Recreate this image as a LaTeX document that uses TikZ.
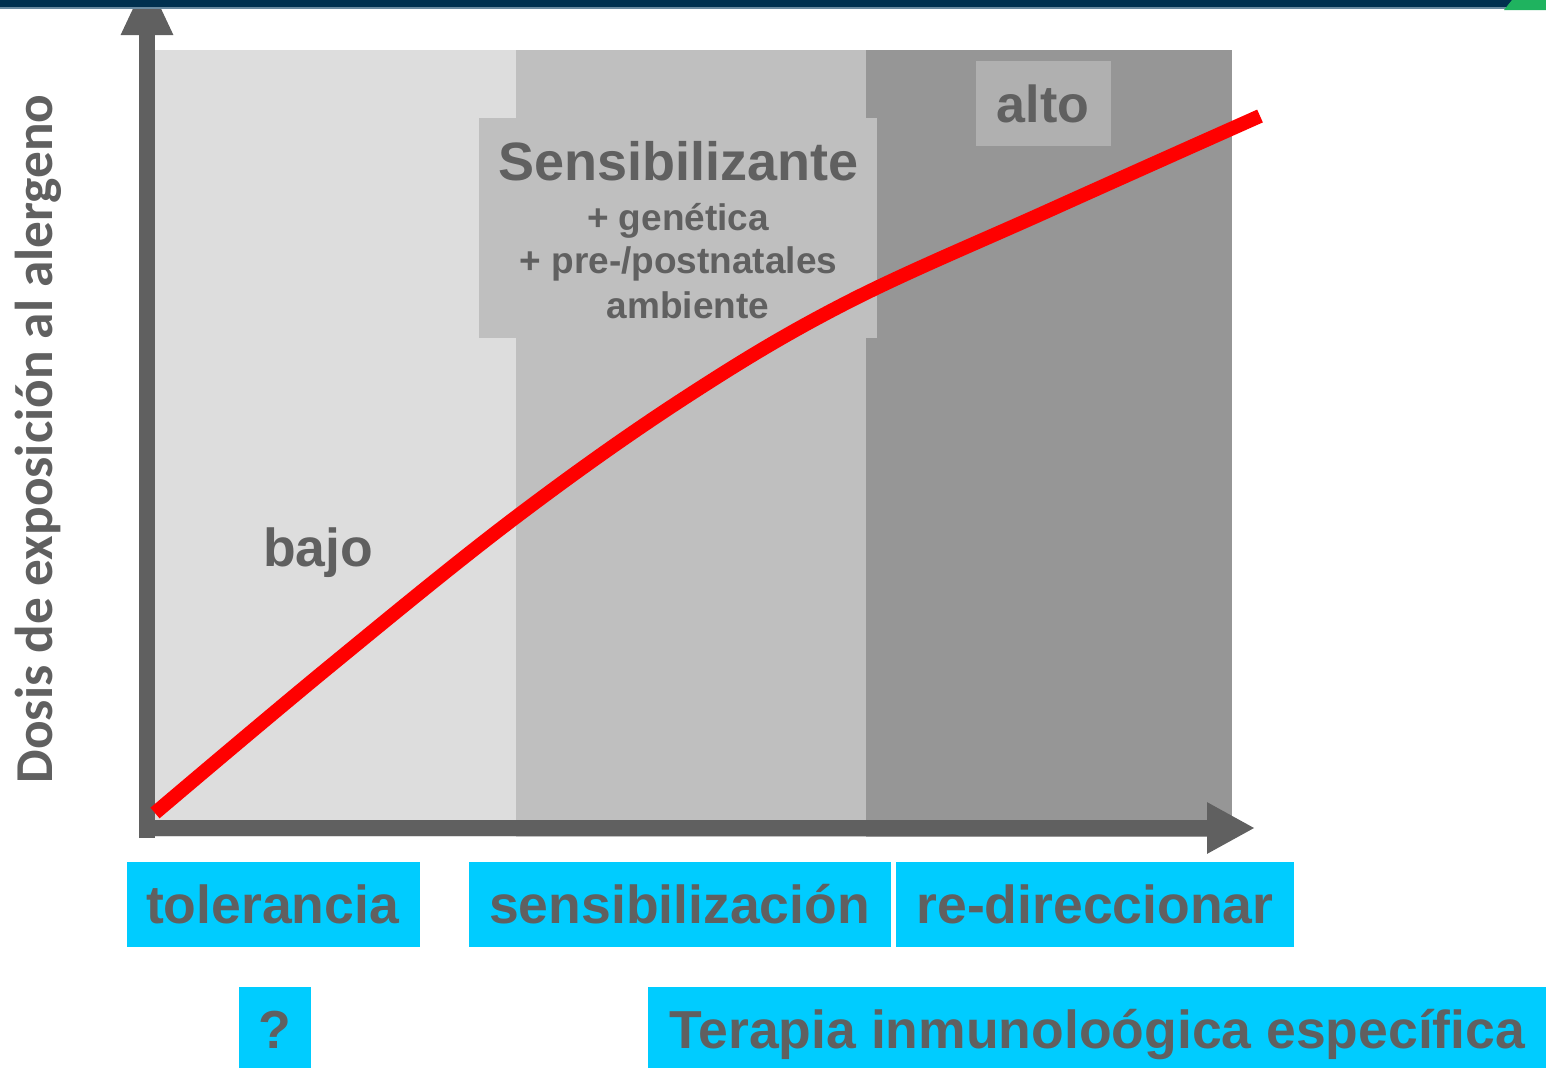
\documentclass[tikz,border=0pt]{standalone}
\usepackage{fontspec}
\setmainfont{Liberation Sans}
\newfontfamily\calibfont{Carlito}
\usetikzlibrary{arrows.meta}
\definecolor{txtgray}{HTML}{606060}
\definecolor{bandA}{HTML}{DDDDDD}
\definecolor{bandB}{HTML}{BFBFBF}
\definecolor{bandC}{HTML}{969696}
\definecolor{altobox}{HTML}{B0B0B0}
\definecolor{cyanbox}{HTML}{00CCFF}
\definecolor{navy}{HTML}{00304F}
\definecolor{navylight}{HTML}{6A8AA0}
\definecolor{greencorner}{HTML}{1FB35F}
\begin{document}
\begin{tikzpicture}[x=1pt,y=-1pt,
  axisline/.style={draw=txtgray,line width=16pt},
  redcurve/.style={draw=red,line width=14pt},
  bigtext/.style={inner sep=0pt,anchor=base,text=txtgray,font=\bfseries\fontsize{53.5}{60}\selectfont},
  midtext/.style={inner sep=0pt,anchor=base,text=txtgray,font=\bfseries\fontsize{37}{44}\selectfont},
  cyanrect/.style={fill=cyanbox,inner sep=0pt,draw=none},
]
\useasboundingbox (0,0) rectangle (1546,1068);
% background bands
\fill[bandA] (155,50) rectangle (516,837);
\fill[bandB] (516,50) rectangle (866,837);
\fill[bandC] (866,50) rectangle (1232,837);
% label boxes in the plot
\node[fill=bandB,inner sep=0pt,minimum width=398pt,minimum height=220pt] (sensbox) at (678,228) {};
\node[fill=altobox,inner sep=0pt,minimum width=135pt,minimum height=85pt] (altobx) at (1043.5,103.5) {};
\node[bigtext,font=\bfseries\fontsize{54}{60}\selectfont] (sens) at (678.5,180) {Sensibilizante};
\node[midtext] (gen) at (678,230) {+ genética};
\node[midtext] (pre) at (678.5,273) {+ pre-/postnatales};
\node[midtext] (amb) at (688,318) {ambiente};
\node[bigtext,font=\bfseries\fontsize{52}{58}\selectfont] (alto) at (1043,122) {alto};
\node[bigtext] (bajo) at (318,566) {bajo};
% axes
\coordinate (ybot) at (147,838);
\coordinate (ytip) at (147,-23);
\coordinate (xstart) at (139,828);
\coordinate (xtip) at (1255,828);
\draw[axisline,-{Triangle[length=58pt,width=48pt]}] (ybot) -- (ytip);
\draw[axisline,-{Triangle[length=48pt,width=48pt]}] (xstart) -- (xtip);
% red curve
\draw[redcurve] plot[smooth,tension=0.6] coordinates {(155,813) (329,667) (516,517) (686,397) (846,303) (1050,210) (1260,116)};
% y label
\node[inner sep=0pt,anchor=base,rotate=90,text=txtgray,font=\calibfont\bfseries\fontsize{53.3}{60}\selectfont] (ylab) at (52,439) {Dosis de exposición al alergeno};
% bottom boxes
\node[cyanrect,minimum width=293pt,minimum height=85pt] (tolbox) at (273.5,904.5) {};
\node[cyanrect,minimum width=422pt,minimum height=85pt] (sensibox) at (680,904.5) {};
\node[cyanrect,minimum width=398pt,minimum height=85pt] (redbox) at (1095,904.5) {};
\node[cyanrect,minimum width=72pt,minimum height=81pt] (qbox) at (275,1027.5) {};
\node[cyanrect,minimum width=898pt,minimum height=81pt] (terbox) at (1097,1027.5) {};
\node[bigtext] (tol) at (272.5,923) {tolerancia};
\node[bigtext] (sensi) at (679.5,923) {sensibilización};
\node[bigtext] (redir) at (1095,923) {re-direccionar};
\node[bigtext] (q) at (275,1048) {?};
\node[bigtext] (ter) at (1097.5,1048) {Terapia inmunoloógica específica};
% top bar
\fill[navy] (0,0) -- (1520,0) -- (1514,7) -- (0,7) -- cycle;
\fill[navylight] (0,7) rectangle (1514,8.5);
\fill[greencorner] (1520,0) -- (1546,0) -- (1546,10) -- (1504,10) -- (1512,0) -- cycle;
\end{tikzpicture}
\end{document}
